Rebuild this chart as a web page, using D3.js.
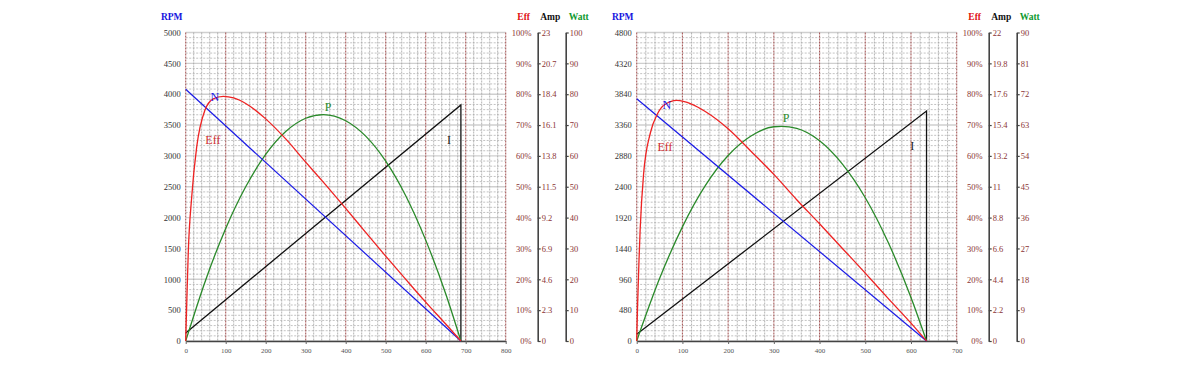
<!DOCTYPE html>
<meta charset="utf-8">
<style>
  body { margin: 0; background: #fff; }
  svg { display: block; font-family: "Liberation Serif", "DejaVu Serif", serif; }
</style>
<svg width="1200" height="366"></svg>
<script src="https://d3js.org/d3.v7.min.js"></script>
<script>

// ---- chart A (left) ----
var xTicksA = [0, 100, 200, 300, 400, 500, 600, 700, 800];
var rpmTicksA = [0, 500, 1000, 1500, 2000, 2500, 3000, 3500, 4000, 4500, 5000];
var ampTicksA = ["0", "2.3", "4.6", "6.9", "9.2", "11.5", "13.8", "16.1", "18.4", "20.7", "23"];
var wattTicksA = ["0", "10", "20", "30", "40", "50", "60", "70", "80", "90", "100"];
var speedA = [[0, 4080], [688, 0]];
var currentA = [[0, 0.6], [688, 17.6], [688, 0]];
var effA = [[0, 0], [3, 14], [6.5, 29], [15, 46.7], [27.5, 62.9], [48, 74.8], [69, 78.5], [94, 79.3],
            [120, 78.8], [150, 77.0], [200, 72.0], [250, 65.5], [300, 58.0], [350, 50.6], [400, 43.0],
            [450, 35.2], [500, 27.5], [550, 20.0], [600, 12.6], [650, 5.5], [688, 0]];
var powerA = [[0, 0], [50, 19.8], [100, 36.5], [150, 50.0], [200, 60.5], [250, 67.9], [300, 72.2],
              [344, 73.4], [400, 71.4], [450, 66.4], [500, 58.3], [550, 47.1], [600, 32.7],
              [650, 15.3], [688, 0]];

// ---- chart B (right) ----
var xTicksB = [0, 100, 200, 300, 400, 500, 600, 700];
var rpmTicksB = [0, 480, 960, 1440, 1920, 2400, 2880, 3360, 3840, 4320, 4800];
var ampTicksB = ["0", "2.2", "4.4", "6.6", "8.8", "11", "13.2", "15.4", "17.6", "19.8", "22"];
var wattTicksB = ["0", "9", "18", "27", "36", "45", "54", "63", "72", "81", "90"];
var speedB = [[0, 3770], [634, 0]];
var currentB = [[0, 0.48], [634, 16.4], [634, 0]];
var effB = [[0, 0], [2, 12], [5, 26], [7.5, 36], [15, 54], [30, 67.5], [45, 73.5], [60, 76.5], [88, 78],
            [120, 76.8], [150, 74.4], [200, 68.8], [250, 61.5], [300, 54.0], [350, 45.8], [400, 38.0],
            [450, 30.0], [500, 22.0], [550, 13.8], [600, 5.8], [634, 0]];
var powerB = [[0, 0], [50, 18.2], [100, 33.3], [150, 45.3], [200, 54.1], [250, 59.8], [300, 62.5],
              [317, 62.6], [350, 62.0], [400, 58.4], [450, 51.6], [500, 41.8], [550, 28.8],
              [600, 12.7], [634, 0]];

var effTicks = ["0%", "10%", "20%", "30%", "40%", "50%", "60%", "70%", "80%", "90%", "100%"];

var svg = d3.select("svg");
var plotTop = 32.5, plotBottom = 341, plotWidth = 320;

function drawChart(left, xTicks, rpmTicks, ampTicks, wattTicks, speed, current, eff, power, labels) {
    var right = left + plotWidth;
    var xMax = xTicks[xTicks.length - 1];
    var rpmMax = rpmTicks[rpmTicks.length - 1];
    var ampMax = +ampTicks[ampTicks.length - 1];
    var wattMax = +wattTicks[wattTicks.length - 1];

    var x = d3.scaleLinear().domain([0, xMax]).range([left, right]);
    var yRpm = d3.scaleLinear().domain([0, rpmMax]).range([plotBottom, plotTop]);
    var yEff = d3.scaleLinear().domain([0, 100]).range([plotBottom, plotTop]);
    var yAmp = d3.scaleLinear().domain([0, ampMax]).range([plotBottom, plotTop]);
    var yW = d3.scaleLinear().domain([0, wattMax]).range([plotBottom, plotTop]);

    var g = svg.append("g");

    // horizontal grid: 6 steps per rpm tick
    var hLines = d3.range(0, 61).map(function(i) { return i * rpmMax / 60; });
    g.append("g").selectAll("line").data(hLines).enter().append("line")
        .attr("x1", left).attr("x2", right)
        .attr("y1", function(d) { return yRpm(d); }).attr("y2", function(d) { return yRpm(d); })
        .attr("stroke", function(d, i) { return i % 6 == 0 ? "#cfcfcf" : "#a8a8a8"; })
        .attr("stroke-width", function(d, i) { return i % 6 == 0 ? 1.4 : 0.7; })
        .attr("stroke-dasharray", function(d, i) { return i % 6 == 0 ? null : "2,1.5"; });

    // vertical grid: minor every 20, major every 100
    var vLines = d3.range(0, xMax / 20 + 1).map(function(i) { return i * 20; });
    g.append("g").selectAll("line").data(vLines).enter().append("line")
        .attr("y1", plotTop).attr("y2", plotBottom)
        .attr("x1", function(d) { return x(d); }).attr("x2", function(d) { return x(d); })
        .attr("stroke", function(d) { return d % 100 == 0 ? "#a85c5c" : "#a0a0a0"; })
        .attr("stroke-width", function(d) { return d % 100 == 0 ? 1.1 : 0.8; })
        .attr("stroke-dasharray", "2,1");

    // bottom axis
    var xAxis = g.append("g")
        .attr("transform", "translate(0," + plotBottom + ")")
        .call(d3.axisBottom(x).tickValues(xTicks).tickSize(3).tickSizeOuter(0).tickPadding(4)
            .tickFormat(d3.format("d")));
    xAxis.select(".domain").attr("stroke", "#444").attr("stroke-width", 1.3);
    xAxis.selectAll(".tick line").attr("stroke", "#666");
    xAxis.selectAll("text").attr("fill", "#555").style("font-size", "7px")
        .style("font-family", "Liberation Serif");

    // left rpm axis
    var yAxis = g.append("g")
        .attr("transform", "translate(" + left + ",0)")
        .call(d3.axisLeft(yRpm).tickValues(rpmTicks).tickSize(0).tickPadding(5)
            .tickFormat(d3.format("d")));
    yAxis.select(".domain").remove();
    yAxis.selectAll("text").attr("fill", "#333").style("font-size", "8.5px")
        .style("font-family", "Liberation Serif");

    // eff axis (labels only)
    var effAxis = g.append("g")
        .attr("transform", "translate(" + (right + 29) + ",0)")
        .call(d3.axisLeft(yEff).tickValues(d3.range(0, 101, 10)).tickSize(0).tickPadding(3)
            .tickFormat(function(d, i) { return effTicks[i]; }));
    effAxis.select(".domain").remove();
    effAxis.selectAll("text").attr("fill", "#8b3535").style("font-size", "8.5px")
        .style("font-family", "Liberation Serif");

    // amp and watt axes
    function sideAxis(pos, scale, ticks) {
        var ax = g.append("g")
            .attr("transform", "translate(" + pos + ",0)")
            .call(d3.axisRight(scale).tickValues(ticks.map(Number)).tickSize(3).tickSizeOuter(0).tickPadding(1)
                .tickFormat(function(d, i) { return ticks[i]; }));
        ax.select(".domain").attr("stroke", "#444").attr("stroke-width", 1.6);
        ax.selectAll(".tick line").attr("stroke", "#444").attr("stroke-width", 1.2);
        ax.selectAll("text").attr("fill", "#8b3535").style("font-size", "8.5px")
            .style("font-family", "Liberation Serif");
    }
    sideAxis(right + 32, yAmp, ampTicks);
    sideAxis(right + 60, yW, wattTicks);

    // headers
    var heads = [
        { t: "RPM", x: left - 14, c: "#1515e0" },
        { t: "Eff", x: right + 18, c: "#e01010" },
        { t: "Amp", x: right + 44.5, c: "#111" },
        { t: "Watt", x: right + 73, c: "#109a30" }
    ];
    g.append("g").selectAll("text").data(heads).enter().append("text")
        .attr("x", function(d) { return d.x; }).attr("y", 20)
        .attr("text-anchor", "middle")
        .attr("fill", function(d) { return d.c; })
        .style("font-size", "9.5px").style("font-weight", "bold")
        .text(function(d) { return d.t; });

    // curves
    var lineRpm = d3.line().x(function(d) { return x(d[0]); }).y(function(d) { return yRpm(d[1]); });
    var lineAmp = d3.line().x(function(d) { return x(d[0]); }).y(function(d) { return yAmp(d[1]); });
    var lineEff = d3.line().x(function(d) { return x(d[0]); }).y(function(d) { return yEff(d[1]); })
        .curve(d3.curveMonotoneX);
    var lineW = d3.line().x(function(d) { return x(d[0]); }).y(function(d) { return yW(d[1]); })
        .curve(d3.curveMonotoneX);

    g.append("path").attr("d", lineAmp(current)).attr("fill", "none").attr("stroke", "#111").attr("stroke-width", 1.3);
    g.append("path").attr("d", lineW(power)).attr("fill", "none").attr("stroke", "#2a8a2a").attr("stroke-width", 1.3);
    g.append("path").attr("d", lineRpm(speed)).attr("fill", "none").attr("stroke", "#1a1ae6").attr("stroke-width", 1.2);
    g.append("path").attr("d", lineEff(eff)).attr("fill", "none").attr("stroke", "#ee2222").attr("stroke-width", 1.3);

    // curve labels
    var lab = [
        { t: "N", x: x(labels.n[0]), y: yRpm(labels.n[1]), c: "#1a1ae6" },
        { t: "Eff", x: x(labels.e[0]), y: yEff(labels.e[1]), c: "#d03030" },
        { t: "P", x: x(labels.p[0]), y: yW(labels.p[1]), c: "#2a8a2a" },
        { t: "I", x: x(labels.i[0]), y: yAmp(labels.i[1]), c: "#222" }
    ];
    g.append("g").selectAll("text").data(lab).enter().append("text")
        .attr("x", function(d) { return d.x; }).attr("y", function(d) { return d.y + 4; })
        .attr("text-anchor", "middle")
        .attr("fill", function(d) { return d.c; })
        .style("font-size", "12px")
        .text(function(d) { return d.t; });
}

drawChart(185.7, xTicksA, rpmTicksA, ampTicksA, wattTicksA, speedA, currentA, effA, powerA,
    { n: [73, 3950], e: [68, 65], p: [356, 76], i: [658, 15] });
drawChart(636.7, xTicksB, rpmTicksB, ampTicksB, wattTicksB, speedB, currentB, effB, powerB,
    { n: [66, 3665], e: [62, 63], p: [327, 65], i: [603, 13.9] });

</script>
